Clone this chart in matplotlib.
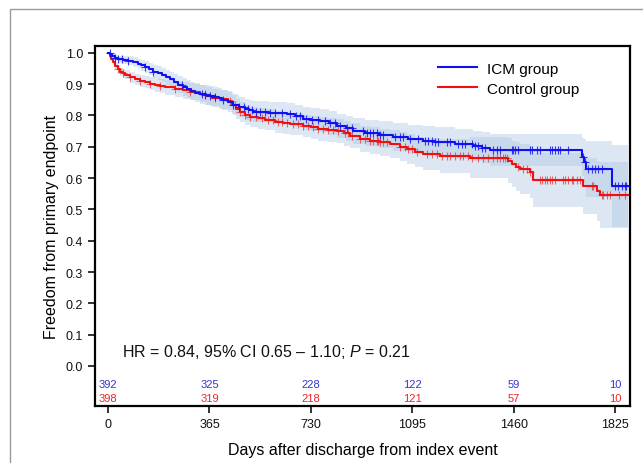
import numpy as np
import matplotlib
matplotlib.use("Agg")
import matplotlib.pyplot as plt
from matplotlib.patches import Rectangle

plt.rcParams["font.family"] = ["Liberation Sans", "DejaVu Sans"]
plt.rcParams["mathtext.fontset"] = "custom"
plt.rcParams["mathtext.rm"] = "Liberation Sans"
plt.rcParams["mathtext.it"] = "Liberation Sans:italic"

# ---------------- data ----------------
icm_t = [0, 8, 14, 25, 36, 55, 72, 90, 108, 120, 133, 148, 162, 178, 194, 208, 223, 238,
         252, 268, 284, 298, 313, 331, 349, 367, 385, 398, 410, 430, 450, 470, 493, 508,
         522, 580, 644, 672, 702, 730, 763, 795, 824, 855, 882, 925, 975, 1026, 1080,
         1134, 1177, 1250, 1314, 1345, 1375, 1706, 1712, 1721, 1814]
icm_s = [1.0, 0.995, 0.99, 0.985, 0.98, 0.977, 0.975, 0.97, 0.965, 0.96, 0.955, 0.948,
         0.94, 0.935, 0.93, 0.922, 0.915, 0.906, 0.898, 0.891, 0.885, 0.878, 0.872, 0.868,
         0.865, 0.862, 0.86, 0.855, 0.85, 0.842, 0.835, 0.827, 0.82, 0.816, 0.812, 0.809,
         0.805, 0.797, 0.79, 0.787, 0.783, 0.775, 0.767, 0.759, 0.751, 0.745, 0.739, 0.732,
         0.726, 0.719, 0.715, 0.709, 0.703, 0.697, 0.69, 0.668, 0.65, 0.629, 0.575]
icm_hw = [0.0, 0.004, 0.007, 0.009, 0.011, 0.013, 0.015, 0.016, 0.017, 0.018, 0.019, 0.02,
          0.021, 0.022, 0.023, 0.024, 0.025, 0.026, 0.027, 0.028, 0.029, 0.029, 0.03, 0.03,
          0.031, 0.031, 0.031, 0.032, 0.032, 0.032, 0.033, 0.033, 0.033, 0.033, 0.034,
          0.034, 0.035, 0.035, 0.036, 0.036, 0.037, 0.038, 0.039, 0.04, 0.041, 0.042,
          0.043, 0.044, 0.045, 0.046, 0.047, 0.048, 0.049, 0.05, 0.05, 0.06, 0.075, 0.09,
          0.13]

ctl_t = [0, 7, 12, 18, 25, 34, 43, 52, 61, 79, 97, 115, 133, 151, 169, 187, 205, 241, 268,
         295, 331, 352, 374, 403, 432, 446, 460, 475, 493, 511, 538, 565, 601, 628, 655,
         702, 730, 756, 790, 824, 848, 871, 907, 943, 979, 1015, 1051, 1076, 1105, 1134,
         1195, 1303, 1440, 1454, 1468, 1483, 1519, 1530, 1710, 1760, 1771]
ctl_s = [1.0, 0.99, 0.98, 0.97, 0.958, 0.948, 0.94, 0.935, 0.93, 0.922, 0.915, 0.911,
         0.907, 0.902, 0.898, 0.894, 0.89, 0.885, 0.88, 0.876, 0.87, 0.863, 0.856, 0.852,
         0.847, 0.835, 0.822, 0.81, 0.802, 0.795, 0.791, 0.787, 0.778, 0.775, 0.773, 0.767,
         0.762, 0.757, 0.754, 0.751, 0.743, 0.735, 0.725, 0.72, 0.715, 0.709, 0.70, 0.693,
         0.683, 0.677, 0.671, 0.665, 0.655, 0.645, 0.637, 0.629, 0.62, 0.594, 0.575, 0.559,
         0.546]
ctl_hw = [0.0, 0.004, 0.006, 0.008, 0.01, 0.012, 0.013, 0.014, 0.015, 0.017, 0.018, 0.019,
          0.02, 0.021, 0.022, 0.023, 0.024, 0.025, 0.026, 0.027, 0.028, 0.029, 0.03, 0.03,
          0.031, 0.031, 0.032, 0.032, 0.033, 0.033, 0.034, 0.034, 0.035, 0.035, 0.036,
          0.036, 0.037, 0.037, 0.038, 0.038, 0.039, 0.04, 0.041, 0.042, 0.043, 0.044,
          0.046, 0.047, 0.048, 0.05, 0.055, 0.065, 0.072, 0.075, 0.078, 0.08, 0.082, 0.085,
          0.09, 0.095, 0.105]

icm_cens = [7, 25, 36, 50, 72, 133, 162, 266, 338, 349, 367, 385, 414, 450, 470, 490,
            504, 518, 533, 547, 565, 583, 601, 626, 655, 677, 691, 713, 734, 756, 781,
            799, 817, 835, 860, 878, 918, 932, 943, 954, 968, 979, 990, 1033, 1051, 1062,
            1087, 1116, 1141, 1152, 1166, 1177, 1188, 1220, 1231, 1260, 1274, 1285, 1310,
            1321, 1332, 1346, 1357, 1386, 1400, 1411, 1454, 1458, 1465, 1476, 1519, 1526,
            1544, 1555, 1591, 1598, 1609, 1620, 1627, 1656, 1710, 1717, 1728, 1742, 1753,
            1764, 1778, 1825, 1836, 1850, 1861, 1866]
ctl_cens = [36, 54, 79, 115, 151, 187, 241, 295, 349, 385, 439, 457, 475, 493, 511, 533,
            554, 576, 594, 612, 626, 644, 666, 684, 702, 720, 738, 756, 774, 792, 810,
            828, 853, 864, 878, 907, 925, 943, 954, 968, 972, 979, 990, 1004, 1051, 1069,
            1080, 1094, 1112, 1148, 1166, 1184, 1202, 1220, 1231, 1249, 1267, 1278, 1296,
            1310, 1332, 1350, 1368, 1386, 1400, 1411, 1422, 1429, 1436, 1476, 1494, 1508,
            1519, 1555, 1562, 1573, 1580, 1591, 1598, 1609, 1638, 1645, 1656, 1670, 1674,
            1688, 1699, 1742, 1746, 1778, 1782, 1796, 1807, 1840, 1860]

risk_days = [0, 365, 730, 1095, 1460, 1825]
icm_risk = [392, 325, 228, 122, 59, 10]
ctl_risk = [398, 319, 218, 121, 57, 10]

t_end = 1872
BLUE = "#1010f0"
RED = "#f01010"
BAND = "#aec6e3"

fig = plt.figure(figsize=(6.43, 4.64), dpi=100)
# outer frame
fig.patches.append(Rectangle((10 / 643, -0.1), 1.2, 1 - 10 / 464 + 0.1,
                             transform=fig.transFigure, fill=False,
                             edgecolor="#9a9a9a", linewidth=1.0))
ax = fig.add_axes([95 / 643, 1 - 407 / 464, (630 - 95) / 643, (407 - 47) / 464])


def ext(t, v):
    return np.append(t, t_end), np.append(v, v[-1])


def surv_at(t, s, x):
    idx = np.searchsorted(np.asarray(t), np.asarray(x), side="right") - 1
    return np.asarray(s)[idx]


for t, s, hw in [(icm_t, icm_s, icm_hw), (ctl_t, ctl_s, ctl_hw)]:
    tt, ss = ext(t, np.asarray(s))
    _, hh = ext(t, np.asarray(hw))
    ax.fill_between(tt, ss - hh, np.minimum(ss + hh, 1.0), step="post",
                    color=BAND, alpha=0.42, linewidth=0)

tt, ss = ext(icm_t, icm_s)
ax.step(tt, ss, where="post", color=BLUE, lw=1.5, label="ICM group", zorder=4)
tt, ss = ext(ctl_t, ctl_s)
ax.step(tt, ss, where="post", color=RED, lw=1.5, label="Control group", zorder=3)

ax.plot(ctl_cens, surv_at(ctl_t, ctl_s, ctl_cens), ls="none", marker="+",
        ms=6, mew=0.8, color=RED, alpha=0.6, zorder=3)
ax.plot(icm_cens, surv_at(icm_t, icm_s, icm_cens), ls="none", marker="+",
        ms=6, mew=0.8, color=BLUE, alpha=0.8, zorder=4)

for d, a, b in zip(risk_days, icm_risk, ctl_risk):
    ax.text(d, -0.058, str(a), color="#3535c8", fontsize=8, ha="center", va="center")
    ax.text(d, -0.104, str(b), color="#e8262c", fontsize=8, ha="center", va="center")

ax.text(50, 0.048, "HR = 0.84, 95% CI 0.65 \u2013 1.10; $\\mathit{P}$ = 0.21",
        fontsize=11.5, ha="left", va="center", color="#111111")

ax.set_xlim(-47, 1879)
ax.set_ylim(-0.128, 1.022)
ax.set_xticks(risk_days)
ax.set_xticklabels([str(d) for d in risk_days])
ax.set_yticks(np.round(np.arange(0, 1.01, 0.1), 1))
ax.set_yticklabels([f"{v:.1f}" for v in np.arange(0, 1.01, 0.1)])
ax.tick_params(direction="out", length=5, width=1.2, labelsize=9, colors="#111111")
for sp in ax.spines.values():
    sp.set_linewidth(1.6)
ax.set_xlabel("Days after discharge from index event", fontsize=11.5, labelpad=9)
ax.set_ylabel("Freedom from primary endpoint", fontsize=11.5, labelpad=5)

leg = ax.legend(loc="upper right", bbox_to_anchor=(0.93, 0.995), frameon=False,
                fontsize=11, handlelength=2.6, labelspacing=0.4, handletextpad=0.6)

fig.savefig("out.png", dpi=100)
